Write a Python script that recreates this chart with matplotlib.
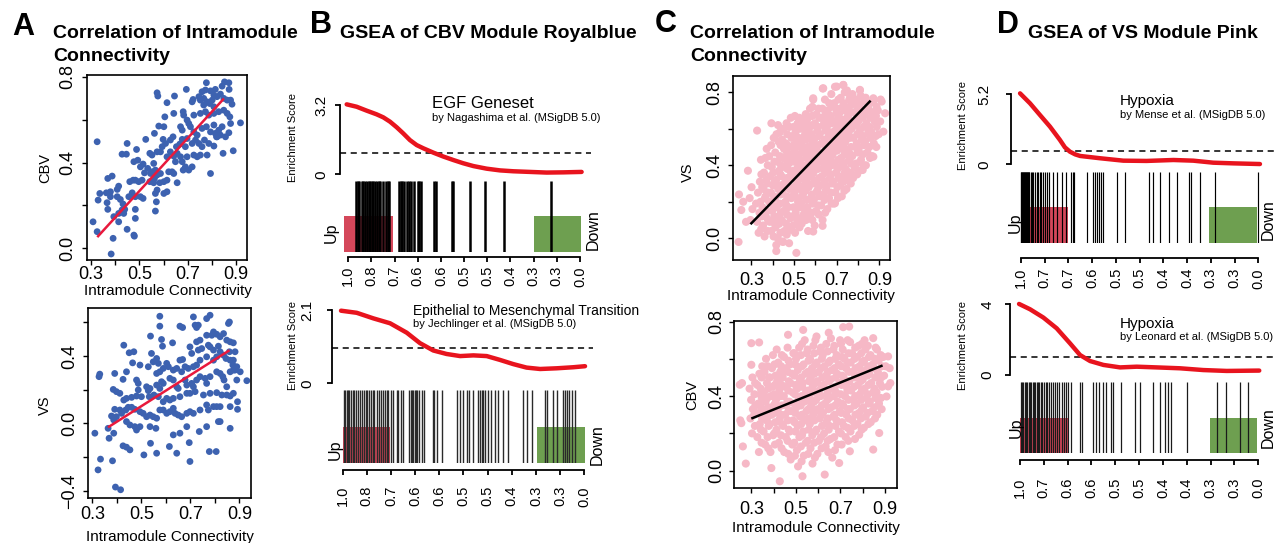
import matplotlib
matplotlib.use('Agg')
import matplotlib.pyplot as plt
from matplotlib.patches import Rectangle
import numpy as np

plt.rcParams['font.family'] = ['Liberation Sans', 'DejaVu Sans']

# ---------------- DATA ----------------
sc_xticks = [0.3, 0.4, 0.5, 0.6, 0.7, 0.8, 0.9]
sc_xticklabels = ['0.3', '', '0.5', '', '0.7', '', '0.9']

# Panel A top: CBV vs intramodule connectivity (royalblue module)
a1_pts = [
 (0.777,0.772),(0.852,0.776),(0.870,0.772),(0.842,0.756),(0.759,0.730),(0.773,0.738),(0.794,0.734),
 (0.814,0.741),(0.871,0.741),(0.694,0.741),(0.573,0.725),(0.576,0.710),(0.645,0.710),(0.614,0.679),
 (0.722,0.694),(0.718,0.683),(0.808,0.714),(0.821,0.707),(0.835,0.719),(0.849,0.699),(0.863,0.691),
 (0.877,0.691),(0.883,0.672),(0.746,0.707),(0.752,0.691),(0.766,0.699),(0.780,0.683),(0.791,0.675),
 (0.801,0.691),(0.766,0.668),(0.808,0.660),
 (0.605,0.613),(0.642,0.629),(0.681,0.637),(0.683,0.621),(0.725,0.621),(0.697,0.598),(0.704,0.582),
 (0.752,0.629),(0.773,0.637),(0.787,0.621),(0.808,0.629),(0.828,0.637),(0.849,0.644),(0.863,0.629),
 (0.874,0.613),(0.580,0.570),(0.601,0.567),(0.670,0.567),(0.677,0.551),(0.711,0.567),(0.725,0.543),
 (0.739,0.528),(0.759,0.559),(0.777,0.567),(0.794,0.543),(0.814,0.536),(0.828,0.551),(0.842,0.567),
 (0.877,0.582),(0.918,0.585),(0.870,0.539),(0.835,0.528),(0.856,0.520),(0.821,0.520),(0.808,0.575),
 (0.526,0.508),(0.562,0.536),(0.598,0.508),(0.608,0.489),(0.628,0.505),(0.639,0.520),(0.653,0.474),
 (0.667,0.486),(0.677,0.508),(0.690,0.474),(0.697,0.512),(0.718,0.489),(0.732,0.505),(0.746,0.489),
 (0.759,0.474),(0.769,0.505),(0.787,0.489),(0.808,0.477),(0.819,0.520),(0.846,0.443),(0.888,0.455),
 (0.780,0.435),(0.752,0.435),(0.725,0.435),(0.697,0.427),(0.670,0.427),(0.677,0.404),(0.649,0.404),
 (0.449,0.489),(0.428,0.439),(0.446,0.439),(0.488,0.461),(0.504,0.380),(0.515,0.393),(0.477,0.404),
 (0.493,0.411),(0.543,0.443),(0.552,0.435),(0.573,0.450),(0.587,0.450),(0.594,0.474),(0.614,0.427),
 (0.628,0.450),(0.642,0.430),(0.656,0.443),(0.690,0.380),(0.704,0.365),(0.681,0.365),(0.718,0.380),
 (0.739,0.427),(0.794,0.349),(0.559,0.396),(0.566,0.365),
 (0.521,0.352),(0.534,0.373),(0.546,0.349),(0.552,0.357),(0.562,0.326),(0.573,0.342),(0.587,0.349),
 (0.601,0.311),(0.614,0.318),(0.621,0.357),(0.635,0.357),(0.642,0.349),(0.656,0.306),(0.584,0.306),
 (0.559,0.306),(0.543,0.311),(0.511,0.318),(0.497,0.311),(0.483,0.318),(0.474,0.318),(0.460,0.311),
 (0.408,0.275),(0.414,0.290),(0.387,0.337),(0.369,0.326),(0.456,0.241),(0.470,0.259),(0.483,0.241),
 (0.504,0.241),(0.515,0.233),(0.573,0.272),(0.566,0.256),(0.570,0.217),(0.601,0.256),(0.614,0.264),
 (0.421,0.228),(0.432,0.207),(0.408,0.241),(0.380,0.264),(0.363,0.259),(0.336,0.256),(0.329,0.225),
 (0.380,0.241),
 (0.369,0.182),(0.394,0.148),(0.414,0.163),(0.428,0.179),(0.439,0.182),(0.483,0.182),(0.483,0.140),
 (0.435,0.163),(0.449,0.089),(0.477,0.062),(0.479,0.057),(0.391,0.047),(0.383,-0.026),(0.308,0.124),
 (0.325,0.078),(0.566,0.174),(0.414,0.124),(0.366,0.213),(0.325,0.497),
]
a1_fit_x = [0.329, 0.846]
a1_fit_y = [0.057, 0.694]

# Panel A bottom: VS vs intramodule connectivity
a2_pts = [
 (0.575,0.637),(0.712,0.633),(0.766,0.623),(0.780,0.643),(0.855,0.594),(0.859,0.603),(0.732,0.584),
 (0.719,0.584),(0.657,0.578),(0.668,0.570),(0.725,0.570),(0.575,0.578),(0.537,0.519),(0.582,0.499),
 (0.586,0.459),(0.627,0.479),(0.725,0.485),(0.739,0.495),(0.766,0.524),(0.787,0.524),(0.794,0.544),
 (0.807,0.530),(0.821,0.515),(0.835,0.534),(0.848,0.495),(0.862,0.485),(0.875,0.479),(0.882,0.426),
 (0.859,0.426),(0.657,0.376),(0.668,0.380),(0.705,0.416),(0.698,0.455),(0.732,0.436),(0.746,0.445),
 (0.773,0.465),(0.780,0.455),(0.794,0.436),(0.807,0.396),(0.814,0.459),(0.821,0.426),(0.835,0.406),
 (0.845,0.386),(0.862,0.376),(0.873,0.347),(0.882,0.317),(0.930,0.254),(0.903,0.307),(0.889,0.337),
 (0.875,0.376),(0.794,0.376),(0.766,0.396),(0.739,0.376),(0.725,0.347),(0.712,0.337),(0.691,0.327),
 (0.678,0.337),(0.664,0.307),(0.644,0.327),(0.630,0.317),(0.610,0.337),(0.603,0.357),(0.589,0.327),
 (0.575,0.307),(0.562,0.297),(0.569,0.357),(0.548,0.366),(0.562,0.386),(0.541,0.416),(0.528,0.337),
 (0.494,0.347),(0.469,0.426),(0.450,0.420),(0.464,0.360),(0.428,0.465),(0.391,0.297),(0.330,0.293),
 (0.327,0.278),(0.425,0.262),(0.439,0.307),(0.480,0.258),(0.487,0.238),(0.487,0.199),(0.521,0.218),
 (0.528,0.195),(0.535,0.208),(0.562,0.228),(0.575,0.208),(0.582,0.248),(0.589,0.238),(0.616,0.268),
 (0.630,0.258),(0.644,0.218),(0.650,0.208),(0.678,0.258),(0.685,0.228),(0.705,0.238),(0.712,0.218),
 (0.725,0.258),(0.739,0.278),(0.760,0.268),(0.766,0.238),(0.780,0.278),(0.807,0.307),(0.821,0.297),
 (0.832,0.278),(0.837,0.258),(0.848,0.218),(0.862,0.307),(0.875,0.317),(0.889,0.258),(0.385,0.202),
 (0.398,0.189),(0.412,0.179),(0.428,0.139),(0.439,0.149),(0.460,0.155),(0.480,0.163),(0.500,0.159),
 (0.532,0.159),(0.551,0.169),(0.569,0.159),(0.589,0.129),(0.603,0.149),(0.616,0.139),(0.630,0.149),
 (0.657,0.159),(0.685,0.179),(0.698,0.179),(0.719,0.189),(0.753,0.169),(0.780,0.179),(0.807,0.183),
 (0.828,0.169),(0.848,0.169),(0.862,0.163),(0.875,0.179),(0.892,0.129),(0.391,0.084),(0.412,0.080),
 (0.378,0.044),(0.398,0.040),(0.419,0.060),(0.436,0.080),(0.446,0.096),(0.460,0.096),(0.473,0.084),
 (0.494,0.070),(0.507,0.060),(0.521,0.040),(0.535,0.050),(0.548,0.040),(0.562,0.031),(0.575,0.080),
 (0.589,0.080),(0.603,0.060),(0.616,0.070),(0.630,0.090),(0.637,0.060),(0.650,0.050),(0.664,0.040),
 (0.685,0.060),(0.698,0.070),(0.712,0.060),(0.739,0.080),(0.766,0.110),(0.773,0.080),(0.794,0.100),
 (0.807,0.100),(0.821,0.100),(0.862,0.100),(0.821,0.011),(0.766,-0.019),(0.685,-0.019),(0.657,-0.058),
 (0.630,-0.068),(0.559,-0.029),(0.535,-0.019),(0.494,-0.019),(0.473,-0.019),(0.480,-0.039),(0.453,-0.009),
 (0.439,0.011),(0.387,0.021),(0.364,-0.029),(0.368,-0.088),(0.387,-0.058),(0.425,-0.133),(0.439,-0.141),
 (0.453,-0.157),(0.510,-0.187),(0.537,-0.118),(0.562,-0.177),(0.614,-0.137),(0.644,-0.177),(0.695,-0.114),
 (0.736,-0.048),(0.777,-0.167),(0.805,-0.167),(0.814,0.011),(0.862,-0.029),(0.892,0.084),(0.310,-0.058),
 (0.333,-0.212),(0.323,-0.276),(0.382,-0.222),(0.394,-0.378),(0.415,-0.394),(0.698,-0.226),
]
a2_fit_x = [0.368, 0.855]
a2_fit_y = [-0.019, 0.431]

# Panel C top: VS vs intramodule connectivity (pink module)
c1_pts = [
 (0.296,0.10),(0.305,0.16),(0.292,0.22),(0.301,0.28),(0.284,0.37),(0.242,0.24),(0.240,-0.02),(0.253,0.155),
 (0.262,0.20),(0.275,0.09),
 (0.334,0.03),(0.327,0.09),(0.338,0.14),(0.322,0.19),(0.331,0.25),(0.340,0.31),(0.327,0.59),(0.345,0.43),
 (0.362,0.01),(0.355,0.07),(0.368,0.12),(0.352,0.17),(0.364,0.22),(0.357,0.27),(0.370,0.32),(0.359,0.36),
 (0.366,0.44),(0.367,0.23),
 (0.394,0.04),(0.386,0.09),(0.398,0.15),(0.383,0.20),(0.392,0.25),(0.401,0.29),(0.388,0.34),(0.396,0.39),
 (0.384,0.45),(0.393,0.51),(0.394,0.63),
 (0.417,-0.07),(0.424,0.00),(0.413,0.06),(0.428,0.12),(0.419,0.17),(0.411,0.22),(0.426,0.27),(0.416,0.32),
 (0.430,0.37),(0.421,0.42),(0.412,0.47),(0.427,0.53),(0.418,0.57),(0.425,0.62),
 (0.448,-0.02),(0.455,0.04),(0.443,0.10),(0.452,0.15),(0.459,0.20),(0.446,0.25),(0.454,0.30),(0.441,0.34),
 (0.457,0.39),(0.447,0.44),(0.453,0.49),(0.444,0.54),(0.450,0.60),
 (0.477,0.05),(0.484,0.11),(0.473,0.17),(0.488,0.22),(0.479,0.27),(0.471,0.32),(0.486,0.36),(0.476,0.41),
 (0.483,0.45),(0.474,0.50),(0.489,0.55),(0.478,0.61),(0.485,0.66),
 (0.511,-0.08),(0.505,0.03),(0.516,0.09),(0.508,0.14),(0.519,0.20),(0.503,0.25),(0.514,0.30),(0.506,0.35),
 (0.518,0.39),(0.509,0.44),(0.501,0.48),(0.515,0.53),(0.507,0.58),(0.517,0.63),(0.504,0.67),
 (0.536,0.08),(0.545,0.13),(0.533,0.19),(0.542,0.24),(0.548,0.29),(0.538,0.33),(0.546,0.38),(0.531,0.43),
 (0.543,0.47),(0.535,0.52),(0.549,0.56),(0.540,0.61),(0.534,0.65),
 (0.566,0.04),(0.574,0.12),(0.563,0.17),(0.578,0.22),(0.569,0.28),(0.561,0.33),(0.576,0.37),(0.567,0.41),
 (0.573,0.46),(0.564,0.50),(0.579,0.55),(0.570,0.60),(0.562,0.65),(0.575,0.71),
 (0.597,0.07),(0.604,0.15),(0.593,0.21),(0.608,0.26),(0.599,0.31),(0.591,0.36),(0.606,0.40),(0.596,0.45),
 (0.603,0.49),(0.594,0.54),(0.609,0.59),(0.598,0.63),(0.605,0.68),(0.590,0.76),
 (0.634,0.10),(0.627,0.18),(0.638,0.24),(0.622,0.29),(0.631,0.34),(0.640,0.38),(0.625,0.43),(0.636,0.47),
 (0.629,0.52),(0.621,0.57),(0.637,0.62),(0.628,0.66),(0.633,0.71),(0.635,0.82),
 (0.656,0.16),(0.664,0.22),(0.652,0.28),(0.668,0.33),(0.659,0.38),(0.651,0.42),(0.666,0.47),(0.657,0.51),
 (0.663,0.56),(0.654,0.61),(0.669,0.65),(0.658,0.70),(0.665,0.74),
 (0.687,0.19),(0.694,0.25),(0.683,0.31),(0.698,0.36),(0.689,0.41),(0.681,0.46),(0.696,0.50),(0.686,0.55),
 (0.693,0.59),(0.684,0.64),(0.699,0.69),(0.688,0.74),(0.692,0.83),
 (0.724,0.23),(0.716,0.29),(0.727,0.34),(0.713,0.39),(0.721,0.44),(0.729,0.49),(0.715,0.54),(0.726,0.58),
 (0.718,0.63),(0.711,0.68),(0.728,0.72),(0.719,0.77),(0.731,0.84),
 (0.746,0.27),(0.754,0.33),(0.743,0.38),(0.758,0.43),(0.749,0.48),(0.741,0.53),(0.756,0.57),(0.747,0.62),
 (0.753,0.67),(0.744,0.71),(0.759,0.76),(0.748,0.81),
 (0.777,0.33),(0.784,0.39),(0.773,0.45),(0.788,0.50),(0.779,0.55),(0.771,0.60),(0.786,0.64),(0.776,0.69),
 (0.783,0.74),(0.774,0.79),
 (0.806,0.37),(0.814,0.43),(0.803,0.49),(0.818,0.54),(0.809,0.59),(0.801,0.64),(0.816,0.68),(0.807,0.73),
 (0.813,0.78),(0.809,0.81),
 (0.837,0.40),(0.844,0.47),(0.833,0.53),(0.848,0.58),(0.839,0.63),(0.831,0.68),(0.846,0.72),(0.836,0.77),
 (0.866,0.45),(0.874,0.52),(0.863,0.58),(0.878,0.64),(0.869,0.69),(0.872,0.75),(0.872,0.447),
 (0.897,0.57),(0.904,0.64),(0.893,0.70),(0.906,0.76),(0.919,0.584),(0.927,0.685),(0.911,0.749),
 (0.692,0.192),(0.634,0.068),(0.590,0.037),(0.480,0.046),(0.430,0.079),(0.409,0.082),(0.448,-0.018),
 (0.477,-0.027),(0.417,-0.037),(0.822,0.374),(0.778,0.347),(0.731,0.840),(0.700,0.831),(0.637,0.822),
 (0.590,0.767),(0.809,0.813),(0.872,0.767),
]
# denser core of the same cloud
c1_core = [
 (0.346,0.05),(0.349,0.12),(0.343,0.20),(0.351,0.28),(0.347,0.35),
 (0.376,0.04),(0.378,0.10),(0.373,0.15),(0.379,0.25),(0.374,0.30),(0.377,0.40),(0.372,0.49),
 (0.404,0.01),(0.407,0.12),(0.402,0.18),(0.406,0.23),(0.409,0.31),(0.403,0.36),(0.408,0.42),(0.405,0.55),
 (0.436,0.03),(0.433,0.09),(0.438,0.14),(0.434,0.19),(0.437,0.24),(0.432,0.29),(0.436,0.35),(0.439,0.40),
 (0.434,0.45),(0.437,0.51),(0.433,0.58),
 (0.466,0.02),(0.463,0.08),(0.468,0.13),(0.464,0.18),(0.467,0.23),(0.462,0.28),(0.466,0.33),(0.469,0.38),
 (0.464,0.43),(0.467,0.47),(0.463,0.52),(0.468,0.57),(0.465,0.63),
 (0.496,0.07),(0.493,0.12),(0.498,0.17),(0.494,0.23),(0.497,0.28),(0.492,0.33),(0.496,0.37),(0.499,0.42),
 (0.494,0.46),(0.497,0.51),(0.493,0.56),(0.498,0.61),
 (0.526,0.06),(0.523,0.11),(0.528,0.17),(0.524,0.22),(0.527,0.27),(0.522,0.32),(0.526,0.37),(0.529,0.41),
 (0.524,0.46),(0.527,0.50),(0.523,0.55),(0.528,0.60),(0.525,0.66),
 (0.556,0.10),(0.553,0.15),(0.558,0.21),(0.554,0.26),(0.557,0.31),(0.552,0.35),(0.556,0.40),(0.559,0.44),
 (0.554,0.49),(0.557,0.54),(0.553,0.58),(0.558,0.63),(0.555,0.68),
 (0.586,0.10),(0.583,0.14),(0.588,0.19),(0.584,0.24),(0.587,0.30),(0.582,0.34),(0.586,0.39),(0.589,0.43),
 (0.584,0.48),(0.587,0.52),(0.583,0.57),(0.588,0.62),(0.585,0.67),(0.586,0.72),
 (0.616,0.13),(0.613,0.18),(0.618,0.23),(0.614,0.28),(0.617,0.33),(0.612,0.38),(0.616,0.42),(0.619,0.47),
 (0.614,0.51),(0.617,0.56),(0.613,0.61),(0.618,0.66),(0.615,0.71),
 (0.646,0.14),(0.643,0.21),(0.648,0.26),(0.644,0.31),(0.647,0.36),(0.642,0.40),(0.646,0.45),(0.649,0.49),
 (0.644,0.54),(0.647,0.59),(0.643,0.64),(0.648,0.68),(0.645,0.76),
 (0.676,0.19),(0.673,0.25),(0.678,0.30),(0.674,0.35),(0.677,0.40),(0.672,0.44),(0.676,0.49),(0.679,0.53),
 (0.674,0.58),(0.677,0.63),(0.673,0.67),(0.678,0.72),(0.675,0.79),
 (0.706,0.22),(0.703,0.28),(0.708,0.33),(0.704,0.38),(0.707,0.43),(0.702,0.48),(0.706,0.52),(0.709,0.57),
 (0.704,0.61),(0.707,0.66),(0.703,0.71),(0.708,0.76),
 (0.736,0.26),(0.733,0.31),(0.738,0.36),(0.734,0.41),(0.737,0.46),(0.732,0.51),(0.736,0.56),(0.739,0.60),
 (0.734,0.65),(0.737,0.70),(0.733,0.74),(0.738,0.80),
 (0.766,0.30),(0.763,0.36),(0.768,0.41),(0.764,0.46),(0.767,0.50),(0.762,0.55),(0.766,0.60),(0.769,0.64),
 (0.764,0.69),(0.767,0.73),(0.763,0.78),
 (0.796,0.35),(0.793,0.41),(0.798,0.47),(0.794,0.52),(0.797,0.57),(0.792,0.62),(0.796,0.66),(0.799,0.71),
 (0.794,0.76),
 (0.826,0.40),(0.823,0.46),(0.828,0.51),(0.824,0.56),(0.827,0.61),(0.822,0.66),(0.826,0.70),(0.829,0.75),
 (0.856,0.44),(0.853,0.50),(0.858,0.55),(0.854,0.61),(0.857,0.66),(0.852,0.70),(0.856,0.74),
 (0.886,0.50),(0.883,0.56),(0.888,0.61),(0.884,0.67),(0.887,0.72),
]
c1_fit_x = [0.300, 0.855]
c1_fit_y = [0.082, 0.749]

# Panel C bottom: CBV vs intramodule connectivity (pink module)
c2_pts = [
 (0.262,0.13),(0.255,0.255),(0.248,0.461),(0.275,0.038),(0.250,0.27),(0.258,0.47),
 (0.303,0.20),(0.296,0.28),(0.307,0.33),(0.299,0.38),(0.292,0.44),(0.305,0.50),(0.300,0.568),(0.300,0.684),
 (0.334,0.10),(0.327,0.18),(0.338,0.25),(0.322,0.31),(0.331,0.36),(0.340,0.41),(0.327,0.46),(0.336,0.52),
 (0.335,0.688),
 (0.362,0.14),(0.355,0.21),(0.368,0.27),(0.352,0.32),(0.364,0.37),(0.357,0.42),(0.370,0.47),(0.359,0.53),
 (0.366,0.60),
 (0.390,0.014),(0.386,0.10),(0.398,0.19),(0.383,0.25),(0.392,0.30),(0.401,0.35),(0.388,0.40),(0.396,0.45),
 (0.384,0.50),(0.393,0.55),(0.397,0.62),
 (0.428,-0.057),(0.424,0.15),(0.413,0.22),(0.428,0.28),(0.419,0.33),(0.411,0.38),(0.426,0.43),(0.416,0.48),
 (0.430,0.53),(0.421,0.58),(0.414,0.65),
 (0.448,0.10),(0.455,0.18),(0.443,0.24),(0.452,0.30),(0.459,0.35),(0.446,0.40),(0.454,0.45),(0.441,0.50),
 (0.457,0.55),(0.447,0.61),(0.465,0.729),
 (0.477,0.06),(0.484,0.14),(0.473,0.21),(0.488,0.27),(0.479,0.32),(0.471,0.37),(0.486,0.42),(0.476,0.47),
 (0.483,0.52),(0.474,0.57),(0.489,0.63),
 (0.510,0.023),(0.505,0.11),(0.516,0.18),(0.508,0.24),(0.519,0.29),(0.503,0.34),(0.514,0.39),(0.506,0.44),
 (0.518,0.49),(0.509,0.54),(0.501,0.60),(0.515,0.66),(0.533,0.755),
 (0.530,-0.03),(0.536,0.08),(0.545,0.15),(0.533,0.21),(0.542,0.27),(0.548,0.32),(0.538,0.37),(0.546,0.42),
 (0.531,0.47),(0.543,0.52),(0.535,0.57),(0.549,0.63),(0.540,0.70),
 (0.575,0.038),(0.566,0.12),(0.574,0.19),(0.563,0.25),(0.578,0.30),(0.569,0.35),(0.561,0.40),(0.576,0.45),
 (0.567,0.50),(0.573,0.55),(0.564,0.60),(0.579,0.67),
 (0.597,0.09),(0.604,0.16),(0.593,0.22),(0.608,0.28),(0.599,0.33),(0.591,0.38),(0.606,0.43),(0.596,0.48),
 (0.603,0.53),(0.594,0.58),(0.609,0.64),(0.593,0.72),
 (0.630,-0.021),(0.634,0.13),(0.627,0.20),(0.638,0.26),(0.622,0.31),(0.631,0.36),(0.640,0.41),(0.625,0.46),
 (0.636,0.51),(0.629,0.56),(0.621,0.62),(0.637,0.68),
 (0.664,0.07),(0.656,0.17),(0.652,0.24),(0.668,0.29),(0.659,0.34),(0.651,0.39),(0.666,0.44),(0.657,0.49),
 (0.663,0.54),(0.654,0.59),(0.669,0.65),(0.658,0.71),
 (0.695,0.041),(0.687,0.14),(0.694,0.21),(0.683,0.27),(0.698,0.32),(0.689,0.37),(0.681,0.42),(0.696,0.47),
 (0.686,0.52),(0.693,0.57),(0.684,0.62),(0.699,0.70),(0.713,0.770),
 (0.724,0.18),(0.716,0.24),(0.727,0.30),(0.713,0.35),(0.721,0.40),(0.729,0.45),(0.715,0.50),(0.726,0.55),
 (0.718,0.60),(0.711,0.65),(0.740,0.773),
 (0.743,0.104),(0.746,0.21),(0.754,0.27),(0.743,0.33),(0.758,0.38),(0.749,0.43),(0.741,0.48),(0.756,0.53),
 (0.747,0.58),(0.753,0.63),(0.744,0.69),
 (0.785,0.193),(0.777,0.25),(0.784,0.31),(0.773,0.36),(0.788,0.41),(0.779,0.46),(0.771,0.51),(0.786,0.56),
 (0.776,0.61),(0.783,0.67),
 (0.806,0.23),(0.814,0.29),(0.803,0.34),(0.818,0.39),(0.809,0.44),(0.801,0.49),(0.816,0.54),(0.807,0.59),
 (0.813,0.65),(0.809,0.70),
 (0.848,0.113),(0.837,0.26),(0.844,0.32),(0.833,0.37),(0.848,0.42),(0.839,0.47),(0.831,0.52),(0.846,0.57),
 (0.836,0.62),(0.848,0.711),
 (0.875,0.202),(0.866,0.30),(0.874,0.36),(0.863,0.42),(0.878,0.47),(0.869,0.53),(0.872,0.59),(0.865,0.65),
 (0.908,0.398),(0.915,0.452),(0.897,0.51),(0.904,0.56),(0.893,0.61),(0.915,0.613),(0.922,0.55),(0.925,0.47),
]
c2_core = [
 (0.316,0.24),(0.313,0.30),(0.318,0.35),(0.314,0.41),(0.317,0.47),
 (0.346,0.15),(0.343,0.22),(0.348,0.28),(0.344,0.34),(0.347,0.39),(0.342,0.44),(0.346,0.50),(0.349,0.56),
 (0.376,0.12),(0.373,0.18),(0.378,0.24),(0.374,0.29),(0.377,0.34),(0.372,0.39),(0.376,0.44),(0.379,0.50),
 (0.374,0.56),
 (0.406,0.14),(0.403,0.20),(0.408,0.26),(0.404,0.31),(0.407,0.36),(0.402,0.41),(0.406,0.46),(0.409,0.51),
 (0.404,0.57),
 (0.436,0.12),(0.433,0.19),(0.438,0.25),(0.434,0.30),(0.437,0.35),(0.432,0.40),(0.436,0.46),(0.439,0.51),
 (0.434,0.56),(0.437,0.62),
 (0.466,0.09),(0.463,0.16),(0.468,0.22),(0.464,0.27),(0.467,0.32),(0.462,0.37),(0.466,0.43),(0.469,0.48),
 (0.464,0.53),(0.467,0.59),(0.463,0.66),
 (0.496,0.08),(0.493,0.15),(0.498,0.21),(0.494,0.26),(0.497,0.31),(0.492,0.36),(0.496,0.41),(0.499,0.46),
 (0.494,0.51),(0.497,0.57),(0.493,0.63),
 (0.526,0.05),(0.523,0.13),(0.528,0.19),(0.524,0.25),(0.527,0.30),(0.522,0.35),(0.526,0.40),(0.529,0.45),
 (0.524,0.50),(0.527,0.56),(0.523,0.62),(0.528,0.68),
 (0.556,0.09),(0.553,0.16),(0.558,0.22),(0.554,0.28),(0.557,0.33),(0.552,0.38),(0.556,0.43),(0.559,0.48),
 (0.554,0.53),(0.557,0.59),(0.553,0.65),
 (0.586,0.07),(0.583,0.15),(0.588,0.21),(0.584,0.27),(0.587,0.32),(0.582,0.37),(0.586,0.42),(0.589,0.47),
 (0.584,0.52),(0.587,0.57),(0.583,0.63),(0.588,0.70),
 (0.616,0.12),(0.613,0.18),(0.618,0.24),(0.614,0.30),(0.617,0.35),(0.612,0.40),(0.616,0.45),(0.619,0.50),
 (0.614,0.55),(0.617,0.60),(0.613,0.66),
 (0.646,0.10),(0.643,0.16),(0.648,0.22),(0.644,0.28),(0.647,0.33),(0.642,0.38),(0.646,0.43),(0.649,0.48),
 (0.644,0.53),(0.647,0.58),(0.643,0.64),(0.648,0.74),
 (0.676,0.11),(0.673,0.18),(0.678,0.24),(0.674,0.30),(0.677,0.35),(0.672,0.40),(0.676,0.45),(0.679,0.50),
 (0.674,0.55),(0.677,0.60),(0.673,0.67),
 (0.706,0.14),(0.703,0.20),(0.708,0.26),(0.704,0.31),(0.707,0.36),(0.702,0.41),(0.706,0.46),(0.709,0.51),
 (0.704,0.56),(0.707,0.61),(0.703,0.68),
 (0.736,0.16),(0.733,0.23),(0.738,0.28),(0.734,0.33),(0.737,0.38),(0.732,0.43),(0.736,0.48),(0.739,0.53),
 (0.734,0.58),(0.737,0.63),(0.733,0.70),
 (0.766,0.17),(0.763,0.24),(0.768,0.30),(0.764,0.35),(0.767,0.40),(0.762,0.45),(0.766,0.50),(0.769,0.55),
 (0.764,0.60),(0.767,0.66),
 (0.796,0.22),(0.793,0.28),(0.798,0.33),(0.794,0.38),(0.797,0.43),(0.792,0.48),(0.796,0.53),(0.799,0.58),
 (0.794,0.63),(0.797,0.68),
 (0.826,0.25),(0.823,0.31),(0.828,0.36),(0.824,0.41),(0.827,0.46),(0.822,0.51),(0.826,0.56),(0.829,0.61),
 (0.824,0.67),
 (0.856,0.28),(0.853,0.34),(0.858,0.39),(0.854,0.44),(0.857,0.50),(0.852,0.55),(0.856,0.60),(0.859,0.66),
 (0.886,0.33),(0.883,0.39),(0.888,0.45),(0.884,0.50),(0.887,0.56),(0.882,0.62),
]
c2_fit_x = [0.305, 0.885]
c2_fit_y = [0.282, 0.562]

# GSEA panels: running enrichment curve (rank position 0..1) and hit positions
b1_curve_pos = [-0.007,0.036,0.079,0.122,0.151,0.180,0.209,0.237,0.266,0.295,0.324,0.367,0.410,0.453,
                0.496,0.540,0.597,0.655,0.712,0.784,0.856,0.928,1.007]
b1_curve_es = [3.23,3.12,2.94,2.77,2.63,2.43,2.17,1.89,1.58,1.35,1.20,1.00,0.82,0.66,0.51,0.38,0.26,0.18,
               0.14,0.11,0.08,0.09,0.11]
b1_hits = [0.033,0.040,0.047,0.058,0.065,0.073,0.079,0.088,0.094,0.101,0.108,0.114,0.122,0.131,0.137,0.148,
           0.163,0.170,0.177,0.220,0.226,0.232,0.240,0.252,0.260,0.271,0.283,0.302,0.306,0.315,0.371,0.378,
           0.449,0.452,0.525,0.588,0.672,0.873]
b1_xlabels = ['1.0','0.8','0.7','0.6','0.6','0.5','0.5','0.4','0.3','0.3','0.0']

b2_curve_pos = [-0.007,0.058,0.127,0.196,0.265,0.320,0.375,0.430,0.486,0.541,0.596,0.651,0.706,0.761,
                0.817,0.886,0.954,1.003]
b2_curve_es = [2.08,2.02,1.86,1.72,1.45,1.15,0.94,0.84,0.78,0.80,0.78,0.67,0.55,0.45,0.41,0.43,0.46,0.49]
b2_hits = [0.006,0.011,0.017,0.022,0.028,0.034,0.041,0.047,0.055,0.065,0.072,0.080,0.088,0.097,0.102,0.110,
           0.116,0.124,0.131,0.141,0.149,0.157,0.168,0.177,0.182,0.189,0.200,0.210,0.223,0.230,0.240,0.251,
           0.276,0.281,0.287,0.292,0.298,0.303,0.309,0.317,0.327,0.337,0.372,0.378,0.389,0.410,0.472,0.486,
           0.497,0.513,0.524,0.538,0.561,0.568,0.575,0.582,0.589,0.603,0.612,0.630,0.644,0.662,0.686,0.748,
           0.761,0.782,0.837,0.844,0.872,0.886,0.910,0.921,0.930,0.935,0.948,0.961]
b2_xlabels = ['1.0','0.8','0.7','0.6','0.6','0.5','0.5','0.4','0.3','0.3','0.0']

d1_curve_pos = [-0.004,0.038,0.080,0.122,0.164,0.185,0.206,0.228,0.249,0.333,0.431,0.529,0.642,0.726,
                0.810,0.895,1.007]
d1_curve_es = [5.27,4.53,3.66,2.80,1.81,1.26,0.94,0.74,0.62,0.45,0.27,0.25,0.32,0.27,0.12,0.07,0.02]
d1_hits = [0.000,0.002,0.004,0.006,0.008,0.010,0.012,0.014,0.016,0.018,0.020,0.022,0.024,0.027,0.029,0.031,
           0.033,0.035,0.041,0.046,0.052,0.059,0.066,0.073,0.080,0.086,0.094,0.103,0.111,0.119,0.136,0.153,
           0.171,0.190,0.209,0.218,0.223,0.277,0.302,0.312,0.322,0.330,0.338,0.346,0.403,0.438,0.541,0.558,
           0.586,0.625,0.659,0.709,0.715,0.754,0.817,1.000]
d1_xlabels = ['1.0','0.7','0.7','0.6','0.5','0.5','0.4','0.4','0.3','0.3','0.0']

d2_curve_pos = [-0.004,0.042,0.098,0.154,0.210,0.252,0.294,0.350,0.420,0.490,0.573,0.671,0.769,0.867,1.004]
d2_curve_es = [4.02,3.72,3.25,2.64,1.79,1.13,0.79,0.57,0.43,0.47,0.43,0.38,0.28,0.23,0.25]
d2_hits = [0.003,0.008,0.014,0.020,0.025,0.031,0.036,0.042,0.048,0.053,0.059,0.064,0.070,0.076,0.081,0.087,
           0.092,0.101,0.109,0.115,0.120,0.129,0.137,0.147,0.157,0.165,0.175,0.185,0.193,0.201,0.213,0.252,
           0.259,0.308,0.319,0.333,0.350,0.361,0.382,0.389,0.424,0.483,0.503,0.559,0.587,0.608,0.622,0.632,
           0.699,0.828,0.863,0.923,0.958]
d2_xlabels = ['1.0','0.7','0.6','0.6','0.5','0.5','0.4','0.4','0.3','0.3','0.0']

# ---------------- FIGURE ----------------
W, H = 1275, 543
fig = plt.figure(figsize=(W / 100, H / 100), dpi=100)
fig.patch.set_facecolor('white')
PT = 0.72  # points per pixel


def add_ax(l, t, r, b):
    return fig.add_axes([l / W, 1 - b / H, (r - l) / W, (b - t) / H])


def ftext(x, y, s, **kw):
    return fig.text(x / W, 1 - y / H, s, **kw)


def scatter_panel(box, pts, xlim, ylim, yt, ytl, color, size, fx, fy, fcol, flw,
                  ylab, ylab_xy, xlab_xy, ypad, xpad, tlen=5):
    ax = add_ax(*box)
    xs = [p[0] for p in pts]
    ys = [p[1] for p in pts]
    ax.scatter(xs, ys, s=size, c=color, edgecolors='none', zorder=2)
    ax.plot(fx, fy, color=fcol, lw=flw, zorder=3)
    ax.set_xlim(*xlim)
    ax.set_ylim(*ylim)
    ax.set_xticks(sc_xticks, labels=sc_xticklabels)
    ax.set_yticks(yt, labels=ytl)
    for lab in ax.get_yticklabels():
        lab.set_rotation(90)
        lab.set_va('center')
    ax.tick_params(direction='out', length=tlen * PT, width=1.0, labelsize=13)
    ax.tick_params(axis='x', pad=xpad)
    ax.tick_params(axis='y', pad=ypad)
    for sp in ax.spines.values():
        sp.set_linewidth(1.2)
    ftext(ylab_xy[0], ylab_xy[1], ylab, rotation=90, ha='center', va='center', fontsize=10.5)
    ftext(xlab_xy[0], xlab_xy[1], 'Intramodule Connectivity', ha='center', va='center', fontsize=11)
    return ax


# Panel A
scatter_panel((87, 75, 247, 260), a1_pts, (0.283, 0.945), (-0.054, 0.808),
              [0.0, 0.2, 0.4, 0.6, 0.8], ['0.0', '', '0.4', '', '0.8'],
              '#3D62B0', 24, a1_fit_x, a1_fit_y, '#E8193C', 1.8,
              'CBV', (45, 168), (168, 291), 4.2, 0.5)
scatter_panel((88, 308, 251, 498), a2_pts, (0.282, 0.947), (-0.443, 0.686),
              [-0.4, -0.2, 0.0, 0.2, 0.4, 0.6], ['\u22120.4', '', '0.0', '', '0.4', ''],
              '#3D62B0', 24, a2_fit_x, a2_fit_y, '#E8193C', 1.8,
              'VS', (45, 405), (170, 537), 3.2, 2.5)

# Panel C
scatter_panel((733, 76, 890, 260), c1_pts + c1_core, (0.214, 0.950), (-0.119, 0.889),
              [0.0, 0.2, 0.4, 0.6, 0.8], ['0.0', '', '0.4', '', '0.8'],
              '#F6B8C6', 34, c1_fit_x, c1_fit_y, 'black', 1.8,
              'VS', (688, 172), (811, 296), 3.2, 4.8)
scatter_panel((734, 321, 897, 488), c2_pts + c2_core, (0.222, 0.955), (-0.093, 0.803),
              [0.0, 0.2, 0.4, 0.6, 0.8], ['0.0', '', '0.4', '', '0.8'],
              '#F6B8C6', 34, c2_fit_x, c2_fit_y, 'black', 1.8,
              'CBV', (692, 395), (816, 528), 2.7, 6.0)


def gsea_panel(cfg, cpos, ces, hits, es_max, es_lab, xlabels, title, sub):
    pos0, pos1 = cfg['pos0'], cfg['pos1']
    scl = pos1 - pos0

    def p2(px):
        return (px - pos0) / scl

    # running enrichment score
    l, r = cfg['spine_x'], cfg['dash_right']
    t, b = cfg['es_top'] - 10, cfg['es_zero'] + 6
    ax = add_ax(l, t, r, b)
    ax.set_xlim(p2(l), p2(r))
    es_sc = (cfg['es_zero'] - cfg['es_top']) / es_max
    ax.set_ylim(-(b - cfg['es_zero']) / es_sc, es_max + (cfg['es_top'] - t) / es_sc)
    ax.axhline(1.0, color='black', lw=1.1, ls=(0, (4, 3)), zorder=1)
    ax.plot(cpos, ces, color='#E8141E', lw=3.2, solid_capstyle='round', zorder=2, clip_on=False)
    for s in ['top', 'right', 'bottom']:
        ax.spines[s].set_visible(False)
    ax.spines['left'].set_bounds(0, es_max)
    ax.spines['left'].set_linewidth(1.3)
    ax.set_xticks([])
    ax.set_yticks([0, es_max], labels=['0', es_lab])
    for lab in ax.get_yticklabels():
        lab.set_rotation(90)
        lab.set_va('center')
    ax.tick_params(axis='y', direction='out', length=5 * PT, width=1.3, labelsize=11,
                   pad=cfg['es_pad'])
    ax.patch.set_alpha(0)
    ftext(cfg['eslab'][0], cfg['eslab'][1], 'Enrichment Score', rotation=90,
          ha='center', va='center', fontsize=8)

    # barcode
    bl = min(pos0 + cfg['up'][0] * scl, pos0) - 3
    br = pos1 + 6
    bx = add_ax(bl, cfg['bar_top'], br, cfg['bar_bot'])
    bx.set_xlim(p2(bl), p2(br))
    bx.set_ylim(0, 1)
    bx.add_patch(Rectangle((cfg['up'][0], 0), cfg['up'][1] - cfg['up'][0], 0.5,
                           facecolor='#D4475A', edgecolor='none', zorder=1))
    bx.add_patch(Rectangle((cfg['down'][0], 0), cfg['down'][1] - cfg['down'][0], 0.5,
                           facecolor='#6E9F50', edgecolor='none', zorder=1))
    bx.vlines(hits, 0, 1, color=cfg['hit_color'], lw=cfg['hit_lw'], zorder=2)
    for s in ['top', 'right', 'left']:
        bx.spines[s].set_visible(False)
    bx.spines['bottom'].set_position(('outward', (cfg['axis_y'] - cfg['bar_bot']) * PT))
    bx.spines['bottom'].set_bounds(0, 1)
    bx.spines['bottom'].set_linewidth(1.3)
    bx.set_yticks([])
    bx.set_xticks(np.linspace(0, 1, len(xlabels)), labels=xlabels)
    for lab in bx.get_xticklabels():
        lab.set_rotation(90)
    bx.tick_params(axis='x', direction='out', length=5 * PT, width=1.3, labelsize=10.5,
                   pad=cfg['x_pad'])
    bx.patch.set_alpha(0)

    ftext(cfg['up_xy'][0], cfg['up_xy'][1], 'Up', rotation=90, ha='center', va='center', fontsize=11.5)
    ftext(cfg['down_xy'][0], cfg['down_xy'][1], 'Down', rotation=90, ha='center', va='center',
          fontsize=11.5)
    ftext(cfg['title_xy'][0], cfg['title_xy'][1], title, ha='left', va='baseline',
          fontsize=cfg['title_fs'])
    ftext(cfg['title_xy'][0], cfg['title_xy'][1] + cfg['sub_dy'], sub, ha='left', va='baseline',
          fontsize=8)


gsea_panel(dict(spine_x=340, es_top=105, es_zero=174.3, pos0=348.3, pos1=580, dash_right=591,
                bar_top=181, bar_bot=252, axis_y=257, es_pad=5.0, x_pad=2.9,
                up=(-0.019, 0.193), down=(0.801, 1.006), hit_color='black', hit_lw=1.8,
                eslab=(293, 137), up_xy=(331.7, 233), down_xy=(593, 230),
                title_xy=(431.7, 108.3), title_fs=12, sub_dy=12.4),
           b1_curve_pos, b1_curve_es, b1_hits, 3.2, '3.2', b1_xlabels,
           'EGF Geneset', 'by Nagashima et al. (MSigDB 5.0)')

gsea_panel(dict(spine_x=331.7, es_top=310, es_zero=383.3, pos0=342.7, pos1=584.3, dash_right=593,
                bar_top=390, bar_bot=463.3, axis_y=470, es_pad=9.0, x_pad=8.0,
                up=(0.002, 0.196), down=(0.803, 1.003), hit_color='#2a2a2a', hit_lw=1.0,
                eslab=(293, 345), up_xy=(335, 450), down_xy=(597, 445),
                title_xy=(413.3, 315), title_fs=10, sub_dy=12),
           b2_curve_pos, b2_curve_es, b2_hits, 2.1, '2.1', b2_xlabels,
           'Epithelial to Mesenchymal Transition', 'by Jechlinger et al. (MSigDB 5.0)')

gsea_panel(dict(spine_x=1011, es_top=94.3, es_zero=164.3, pos0=1021, pos1=1258.3, dash_right=1275,
                bar_top=171.7, bar_bot=242.7, axis_y=258.3, es_pad=10.4, x_pad=3.4,
                up=(0.035, 0.199), down=(0.793, 0.996), hit_color='black', hit_lw=0.85,
                eslab=(963, 125), up_xy=(1015, 223), down_xy=(1268, 220),
                title_xy=(1120, 105), title_fs=11, sub_dy=13),
           d1_curve_pos, d1_curve_es, d1_hits, 5.2, '5.2', d1_xlabels,
           'Hypoxia', 'by Mense et al. (MSigDB 5.0)')

gsea_panel(dict(spine_x=1010, es_top=304.3, es_zero=375, pos0=1020, pos1=1258.3, dash_right=1275,
                bar_top=381.7, bar_bot=453.3, axis_y=460, es_pad=7.3, x_pad=9.0,
                up=(0.0, 0.203), down=(0.797, 0.996), hit_color='#1a1a1a', hit_lw=0.9,
                eslab=(963, 345), up_xy=(1016, 428), down_xy=(1268, 428),
                title_xy=(1120, 328.3), title_fs=11, sub_dy=11.7),
           d2_curve_pos, d2_curve_es, d2_hits, 4.0, '4', d2_xlabels,
           'Hypoxia', 'by Leonard et al. (MSigDB 5.0)')

# Panel letters and titles
for (x, y, s) in [(12, 35, 'A'), (310, 33, 'B'), (655, 32, 'C'), (997, 33, 'D')]:
    ftext(x, y, s, fontsize=22, fontweight='bold', ha='left', va='baseline')
ftext(53, 38, 'Correlation of Intramodule', fontsize=14, fontweight='bold', ha='left', va='baseline')
ftext(53, 61, 'Connectivity', fontsize=14, fontweight='bold', ha='left', va='baseline')
ftext(340, 38, 'GSEA of CBV Module Royalblue', fontsize=14, fontweight='bold', ha='left', va='baseline')
ftext(690, 38, 'Correlation of Intramodule', fontsize=14, fontweight='bold', ha='left', va='baseline')
ftext(690, 61, 'Connectivity', fontsize=14, fontweight='bold', ha='left', va='baseline')
ftext(1028, 38, 'GSEA of VS Module Pink', fontsize=14, fontweight='bold', ha='left', va='baseline')

fig.savefig('out.png', dpi=100, facecolor='white')
